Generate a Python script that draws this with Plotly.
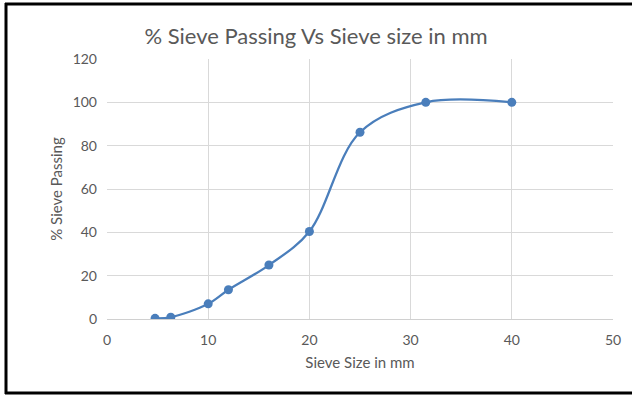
import plotly.graph_objects as go

sieve_size_mm = [4.75, 6.3, 10, 12, 16, 20, 25, 31.5, 40]
percent_passing = [0.3, 0.8, 7.0, 13.5, 24.9, 40.4, 86.2, 100, 100]

x_ticks = [0, 10, 20, 30, 40, 50]
y_ticks = [0, 20, 40, 60, 80, 100, 120]

FONT = "Lato, 'Open Sans', sans-serif"
GREY = "#595959"
BLUE = "#4A7EBB"

fig = go.Figure()
fig.add_trace(go.Scatter(
    x=sieve_size_mm, y=percent_passing,
    mode="lines+markers",
    line=dict(color=BLUE, width=2.25, shape="spline", smoothing=1.0),
    marker=dict(color=BLUE, size=9),
    showlegend=False,
))

L, R, T, B = 107, 19, 59, 77
W, H = 632, 396
pw, ph = W - L - R, H - T - B

def px_x(p):
    return (p - L) / pw

def px_y(p):
    return (H - B - p) / ph

fig.update_layout(
    width=W, height=H,
    margin=dict(l=L, r=R, t=T, b=B),
    paper_bgcolor="white", plot_bgcolor="white",
    font=dict(family=FONT, color=GREY, size=14),
    title=dict(text="% Sieve Passing Vs Sieve size in mm", x=0.5, xanchor="center",
               y=1 - 36 / H, yanchor="middle",
               font=dict(family=FONT, size=22, color=GREY)),
    xaxis=dict(range=[0, 50], tickvals=x_ticks, showgrid=True, gridcolor="#D9D9D9",
               zeroline=False, showline=True, linecolor="#D0D0D0", linewidth=1,
               ticks="", ticklabelstandoff=8, tickfont=dict(size=14, color=GREY),
               title=dict(text="Sieve Size in mm", font=dict(size=15, color=GREY), standoff=10)),
    yaxis=dict(range=[0, 120], tickvals=y_ticks, showgrid=True, gridcolor="#D9D9D9",
               zeroline=False, showline=False, ticks="", ticklabelstandoff=9,
               tickfont=dict(size=14, color=GREY),
               title=dict(text="% Sieve Passing", font=dict(size=15, color=GREY), standoff=6)),
    shapes=[
        dict(type="line", xref="paper", yref="paper", x0=px_x(6), x1=px_x(6), y0=px_y(3), y1=px_y(394),
             line=dict(color="black", width=3)),
        dict(type="line", xref="paper", yref="paper", x0=px_x(5), x1=px_x(640), y0=px_y(4), y1=px_y(4),
             line=dict(color="black", width=3)),
        dict(type="line", xref="paper", yref="paper", x0=px_x(5), x1=px_x(640), y0=px_y(393), y1=px_y(393),
             line=dict(color="black", width=3)),
    ],
)

fig.write_html("out.html", config={"displayModeBar": False},
               post_script="document.body.style.margin='0';document.body.style.overflow='hidden';")
